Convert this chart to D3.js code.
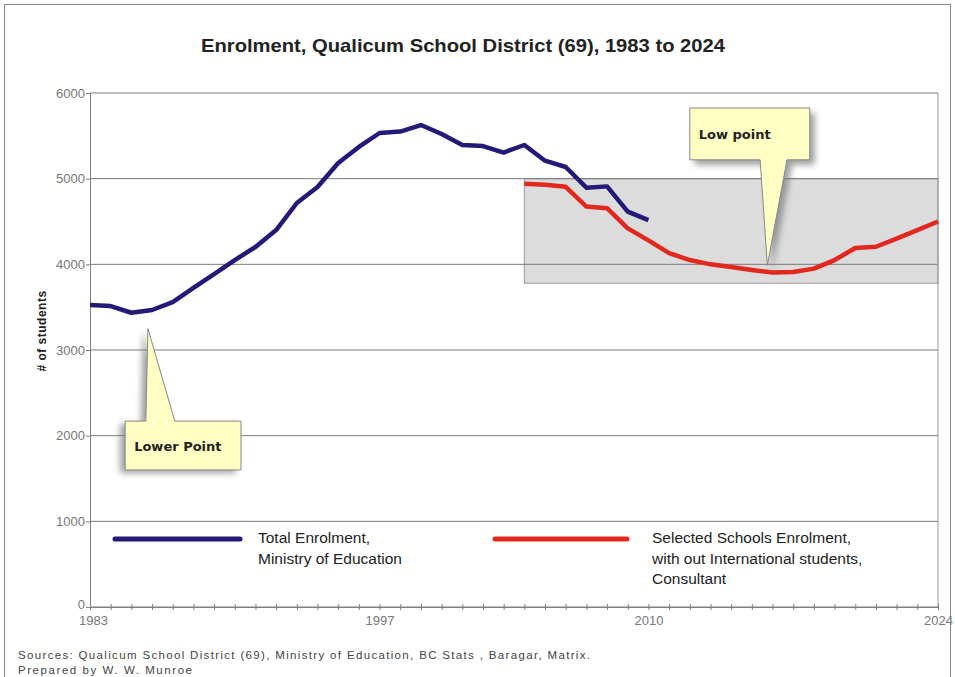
<!DOCTYPE html>
<html>
<head>
<meta charset="utf-8">
<script src="https://cdnjs.cloudflare.com/ajax/libs/d3/7.8.5/d3.min.js"></script>
<style>
  body { margin: 0; background: #fff; }
  text { font-family: "Liberation Sans", Arial, sans-serif; }
</style>
</head>
<body>
<div id="canvas"></div>
<script>
// data
var totalYears = d3.range(1983, 2011);
var totalValues = [3525, 3513, 3435, 3467, 3560, 3724, 3887, 4050, 4202, 4400,
                   4716, 4902, 5183, 5370, 5533, 5550, 5626, 5521, 5393, 5381,
                   5305, 5393, 5210, 5136, 4895, 4910, 4615, 4517];
var selectedYears = d3.range(2004, 2025);
var selectedValues = [4940, 4930, 4905, 4675, 4655, 4420, 4280, 4130, 4050, 4000,
                      3970, 3935, 3905, 3910, 3950, 4050, 4190, 4205, 4300, 4400, 4500];
var yTicks = [0, 1000, 2000, 3000, 4000, 5000, 6000];
var xLabels = [1983, 1997, 2010, 2024];
var seriesNames = [["Total Enrolment,", "Ministry of Education"],
                   ["Selected Schools Enrolment,", "with out International students,", "Consultant"]];
var band = {x0: 2004, x1: 2024, y0: 3780, y1: 5000};

var W = 955, H = 677;
var m = {t:93, r:17, b:70, l:90};
var w = W - m.l - m.r, h = H - m.t - m.b;

var svg = d3.select('#canvas').append('svg')
    .attr('width', W).attr('height', H);

var defs = svg.append('defs');
defs.append('filter').attr('id','blur')
    .attr('x','-30%').attr('y','-30%').attr('width','160%').attr('height','160%')
  .append('feGaussianBlur').attr('stdDeviation', 3);

// outer frame
svg.append('rect').attr('x',4.5).attr('y',4.5).attr('width',946).attr('height',700)
    .attr('fill','none').attr('stroke','#888');

svg.append('text').attr('x', 463).attr('y', 52).attr('text-anchor','middle')
    .style('font-size','19px').style('font-weight','bold').attr('fill','#222')
    .attr('textLength', 524).attr('lengthAdjust','spacingAndGlyphs')
    .text('Enrolment, Qualicum School District (69), 1983 to 2024');

var plot = svg.append('g').attr('transform','translate(' + m.l + ',' + m.t + ')');

var x = d3.scaleLinear().domain([1983, 2024]).range([0, w]);
var y = d3.scaleLinear().domain([0, 6000]).range([h, 0]);

// grey band
plot.append('rect')
    .attr('x', x(band.x0)).attr('y', y(band.y1))
    .attr('width', x(band.x1) - x(band.x0)).attr('height', y(band.y0) - y(band.y1))
    .attr('fill','#dcdcdc').attr('stroke','#999');

// grid
plot.selectAll('.grid').data(yTicks).enter().append('line')
    .attr('x1', 0).attr('x2', w)
    .attr('y1', function(d){ return y(d); }).attr('y2', function(d){ return y(d); })
    .attr('stroke','#7a7a7a').attr('stroke-width',1);
plot.append('line').attr('x1', w).attr('x2', w).attr('y1', 0).attr('y2', h)
    .attr('stroke','#999');

// y axis
var axisY = d3.axisLeft(y).tickValues(yTicks).tickSize(4).tickFormat(d3.format('d'));
var gy = plot.append('g').call(axisY);
gy.select('.domain').attr('stroke','#808080');
gy.selectAll('line').attr('stroke','#808080');
gy.selectAll('text').attr('fill','#777').style('font-size','13px').attr('x', -5);
gy.selectAll('.tick').filter(function(d){ return d === 0; }).select('text').attr('dy', '0.1em');

// x axis, yearly ticks
var axisX = d3.axisBottom(x).tickValues(d3.range(1983, 2025)).tickSize(3)
    .tickFormat(function(d){ return xLabels.indexOf(d) >= 0 ? d : ''; });
var gx = plot.append('g').attr('transform','translate(0,' + h + ')').call(axisX);
gx.select('.domain').attr('stroke','#808080');
gx.selectAll('line').attr('stroke','#808080').attr('y1', -3);
gx.selectAll('text').attr('fill','#777').style('font-size','13px').attr('y', 9);
gx.selectAll('.tick').filter(function(d){ return d === 1983; }).select('text').attr('dx', 3);

svg.append('text').attr('transform','translate(46,331) rotate(-90)')
    .attr('text-anchor','middle').style('font-size','12px').style('font-weight','bold')
    .style('letter-spacing','0.5px').attr('fill','#222').text('# of students');

// lines
var line = d3.line()
    .x(function(d){ return x(d[0]); })
    .y(function(d){ return y(d[1]); });

plot.append('path').datum(d3.zip(selectedYears, selectedValues))
    .attr('d', line).attr('fill','none').attr('stroke','#e2281e')
    .attr('stroke-width', 4.5).attr('stroke-linejoin','round');
plot.append('path').datum(d3.zip(totalYears, totalValues))
    .attr('d', line).attr('fill','none').attr('stroke','#231a78')
    .attr('stroke-width', 4.5).attr('stroke-linejoin','round');

// callouts: box in data units, pointer tip in data units
var callouts = [
  {label:'Lower Point', box:[1984.7, 1990.3, 1600, 2170], base:[1985.7, 1987.1], tip:[1985.8, 3250], shadow:[-5, 3]},
  {label:'Low point', box:[2012.0, 2017.8, 5220, 5825], base:[2015.4, 2016.7], tip:[2015.75, 3990], shadow:[5, 5]}
];
callouts.forEach(function(c){
  var bx0 = x(c.box[0]), bx1 = x(c.box[1]);
  var top = y(c.box[3]), bot = y(c.box[2]);
  var tx = x(c.tip[0]), ty = y(c.tip[1]);
  var p;
  if (ty < top) {
    p = [[bx0,top],[x(c.base[0]),top],[tx,ty],[x(c.base[1]),top],[bx1,top],[bx1,bot],[bx0,bot]];
  } else {
    p = [[bx0,top],[bx1,top],[bx1,bot],[x(c.base[1]),bot],[tx,ty],[x(c.base[0]),bot],[bx0,bot]];
  }
  var d = 'M' + p.join('L') + 'Z';
  plot.append('path').attr('d', d).attr('fill','#777').attr('opacity',0.7)
      .attr('transform','translate(' + c.shadow[0] + ',' + c.shadow[1] + ')')
      .attr('filter','url(#blur)');
  plot.append('path').attr('d', d).attr('fill','#ffffc4').attr('stroke','#888');
  plot.append('text').attr('x', bx0 + 9).attr('y', (top + bot)/2 + 5)
      .style('font-family','"DejaVu Sans", sans-serif')
      .style('font-size','13px').style('font-weight','bold').attr('fill','#222')
      .text(c.label);
});

// legend
var legend = [
  {x:115, color:'#231a78', len:125, tx:258},
  {x:495, color:'#e2281e', len:132, tx:652}
];
legend.forEach(function(l, i){
  svg.append('line').attr('x1', l.x).attr('x2', l.x + l.len).attr('y1', 539).attr('y2', 539)
      .attr('stroke', l.color).attr('stroke-width', 5).attr('stroke-linecap','round');
  seriesNames[i].forEach(function(s, j){
    svg.append('text').attr('x', l.tx).attr('y', 543 + j*20.5)
        .style('font-size','15.5px').attr('fill','#222').text(s);
  });
});

// sources
svg.append('text').attr('x', 18).attr('y', 659).style('font-size','11.5px').attr('fill','#444')
    .attr('textLength', 572).attr('lengthAdjust','spacing')
    .text('Sources: Qualicum School District (69), Ministry of Education, BC Stats , Baragar, Matrix.');
svg.append('text').attr('x', 18).attr('y', 674).style('font-size','11.5px').attr('fill','#444')
    .attr('textLength', 174).attr('lengthAdjust','spacing')
    .text('Prepared by W. W. Munroe');
</script>
</body>
</html>
